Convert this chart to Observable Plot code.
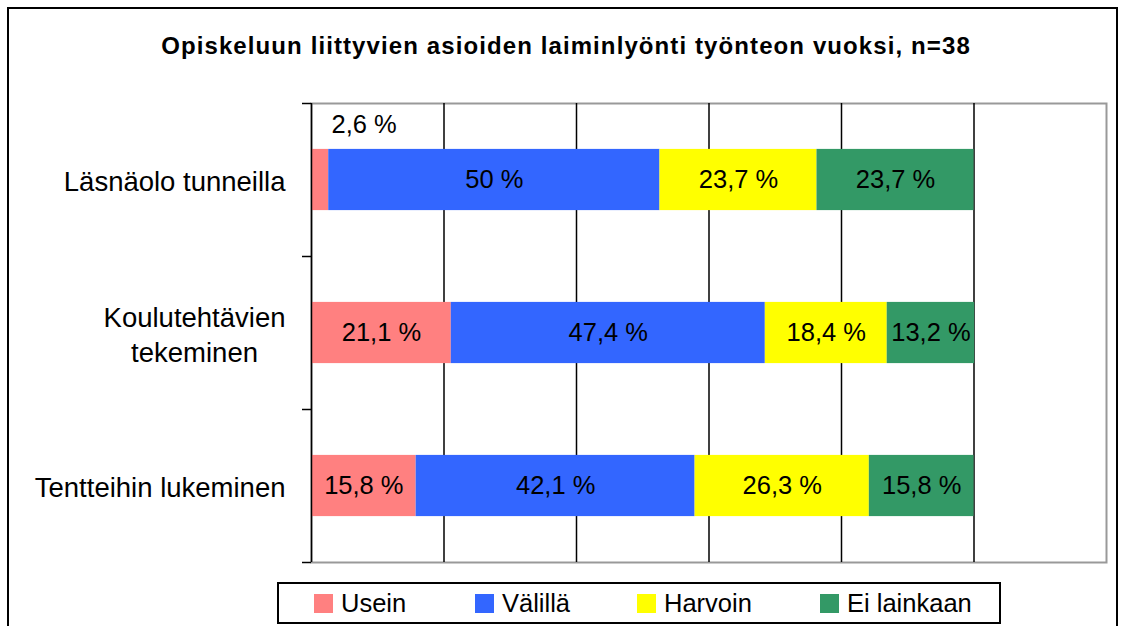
<!DOCTYPE html>
<html><head><meta charset="utf-8">
<script src="https://cdn.jsdelivr.net/npm/d3@7"></script>
<script src="https://cdn.jsdelivr.net/npm/@observablehq/plot@0.6"></script>
<style>
body{margin:0;background:#fff;font-family:"Liberation Sans",Arial,sans-serif;}
#wrap{position:relative;width:1122px;height:626px;overflow:hidden;background:#fff}
#frame{position:absolute;left:7px;top:7px;width:1111px;height:700px;border:2px solid #000;box-sizing:border-box}
#title{position:absolute;left:0;top:34px;width:1132px;text-align:center;font-weight:bold;font-size:24px;letter-spacing:1.1px;line-height:1;color:#000;white-space:nowrap}
#chart{position:absolute;left:0;top:90px}
#legend{position:absolute;left:277px;top:582px;width:724px;height:42px;border:2px solid #000;box-sizing:border-box;background:#fff}
.sw{position:absolute;top:10px;width:19px;height:19px}
.lt{position:absolute;top:7px;font-size:25.5px;line-height:1;color:#000;white-space:nowrap}
</style></head>
<body>
<div id="wrap">
  <div id="frame"></div>
  <div id="title"></div>
  <div id="chart"></div>
  <div id="legend"></div>
</div>
<script>
const titleText = "Opiskeluun liittyvien asioiden laiminlyönti työnteon vuoksi, n=38";
const categories = ["Läsnäolo tunneilla", "Koulutehtävien\ntekeminen", "Tentteihin lukeminen"];
const seriesNames = ["Usein", "Välillä", "Harvoin", "Ei lainkaan"];
const usein = [2.6, 21.1, 15.8];
const valilla = [50, 47.4, 42.1];
const harvoin = [23.7, 18.4, 26.3];
const eiLainkaan = [23.7, 13.2, 15.8];
const seriesColors = ["#FF8080", "#3366FF", "#FFFF00", "#339966"];
const xGrid = [20, 40, 60, 80, 100];
const xDomain = [0, 120];
const yBoundaries = [0, 1, 2, 3];
const legendSwatchX = [35, 196, 358, 541];

const seriesValues = [usein, valilla, harvoin, eiLainkaan];
const rows = [];
categories.forEach((c, i) => {
  let acc = 0;
  seriesNames.forEach((s, j) => {
    const v = seriesValues[j][i];
    rows.push({category: c, index: i, series: s, value: v, x1: acc, x2: acc + v});
    acc += v;
  });
});
const fmt = v => String(v).replace(".", ",") + " %";

document.getElementById("title").textContent = titleText;

const catFont = 27.5;
const ctx = document.createElement("canvas").getContext("2d");
ctx.font = catFont + "px 'Liberation Sans'";
const catWidth = c => d3.max(c.split("\n"), l => ctx.measureText(l).width);

const catMarks = categories.map((c, i) => Plot.text([{label: c, pos: i + 0.5}], {
  y: "pos", text: "label", frameAnchor: "left", textAnchor: "middle",
  dx: -(26 + catWidth(c) / 2), lineHeight: 1.3, fontSize: catFont, fill: "black"
}));

const chart = Plot.plot({
  width: 1122, height: 490,
  marginLeft: 311, marginRight: 16, marginTop: 13, marginBottom: 18,
  style: {fontFamily: "'Liberation Sans', Arial, sans-serif", background: "transparent", overflow: "visible"},
  x: {domain: xDomain, axis: null},
  y: {domain: [0, 3], reverse: true, label: null},
  color: {domain: seriesNames, range: seriesColors},
  marks: [
    Plot.frame({stroke: "#999", strokeWidth: 2}),
    Plot.ruleX(xGrid, {stroke: "black", strokeWidth: 1.5}),
    Plot.rectX(rows, {x1: "x1", x2: "x2", y1: d => d.index + 0.3, y2: d => d.index + 0.7, fill: "series"}),
    Plot.ruleX([0], {stroke: "black", strokeWidth: 1.5}),
    Plot.axisY({ticks: yBoundaries, tickSize: 9, tickFormat: () => "", label: null, stroke: "black", strokeWidth: 1.5}),
    Plot.text(rows, {x: d => (d.x1 + d.x2) / 2, y: d => d.index + 0.5, text: d => d.value >= 5 ? fmt(d.value) : null, fontSize: 25.5, fill: "black"}),
    Plot.text(rows, {x: d => (d.x1 + d.x2) / 2, y: d => d.index + 0.5, text: d => d.value < 5 ? fmt(d.value) : null, dx: 44, dy: -55, fontSize: 25.5, fill: "black"}),
    ...catMarks
  ]
});
document.getElementById("chart").appendChild(chart);

const legend = document.getElementById("legend");
seriesNames.forEach((s, i) => {
  const sw = document.createElement("div");
  sw.className = "sw";
  sw.style.left = legendSwatchX[i] + "px";
  sw.style.background = seriesColors[i];
  legend.appendChild(sw);
  const t = document.createElement("div");
  t.className = "lt";
  t.style.left = (legendSwatchX[i] + 27) + "px";
  t.textContent = s;
  legend.appendChild(t);
});
</script>
</body></html>
